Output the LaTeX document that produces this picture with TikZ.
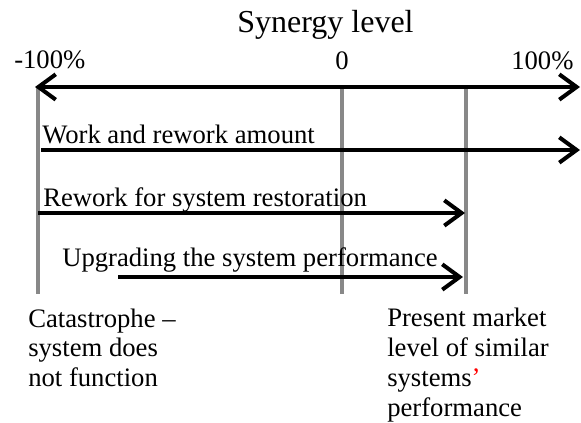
\documentclass[tikz,border=0pt]{standalone}
\usepackage{fontspec}
\setmainfont{Liberation Serif}
\usetikzlibrary{arrows.meta}
\definecolor{markgray}{RGB}{136,136,136}
\tikzset{
  barb/.style={-{Straight Barb[length=13pt,width=19pt]}, line width=3pt},
  dblbarb/.style={{Straight Barb[length=13pt,width=19pt]}-{Straight Barb[length=13pt,width=19pt]}, line width=3pt},
  level/.style={markgray, line width=3pt},
  lbl/.style={inner sep=0pt, anchor=base west, font=\fontsize{20}{22.3}\selectfont},
  heading/.style={inner sep=0pt, anchor=base, font=\fontsize{24}{28}\selectfont},
}

\begin{document}
\begin{tikzpicture}[x=0.75pt,y=-0.75pt]
  \useasboundingbox (0,0) rectangle (581,423);

  % Level lines
  \foreach \xv/\nm in {38/low, 342/zero, 466/market} {
    \coordinate (\nm-top) at (\xv,87);
    \coordinate (\nm-bot) at (\xv,294);
    \draw[level] (\nm-top) -- (\nm-bot);
  }

  % Axis
  \coordinate (axL) at (35,87);
  \coordinate (axR) at (580,87);
  \draw[dblbarb] (axL) -- (axR);
  \node[heading] (title) at (325.5,33) {Synergy level};
  \node[lbl] (pmin) at (14,69) {-100\%};
  \node[lbl, anchor=base] (pzero) at (342,70) {0};
  \node[lbl] (pmax) at (511,70) {100\%};

  % Work arrows
  \coordinate (work-s) at (41,150);
  \coordinate (work-e) at (580,150);
  \draw[barb] (work-s) -- (work-e);
  \node[lbl] (work) at (42,144) {Work and rework amount};

  \coordinate (restore-s) at (38,213);
  \coordinate (restore-e) at (465,213);
  \draw[barb] (restore-s) -- (restore-e);
  \node[lbl] (restore) at (43,207) {Rework for system restoration};

  \coordinate (upgrade-s) at (118,277);
  \coordinate (upgrade-e) at (463,277);
  \draw[barb] (upgrade-s) -- (upgrade-e);
  \node[lbl] (upgrade) at (62,267) {Upgrading the system performance};

  % Level captions (base = last line)
  \node[lbl, align=left] (catastrophe) at (28,386.5) {Catastrophe –\\system does\\not function};
  \node[lbl, align=left] (present) at (387,416) {Present market\\level of similar\\systems{\color{red}’}\\performance};

\end{tikzpicture}
\end{document}
